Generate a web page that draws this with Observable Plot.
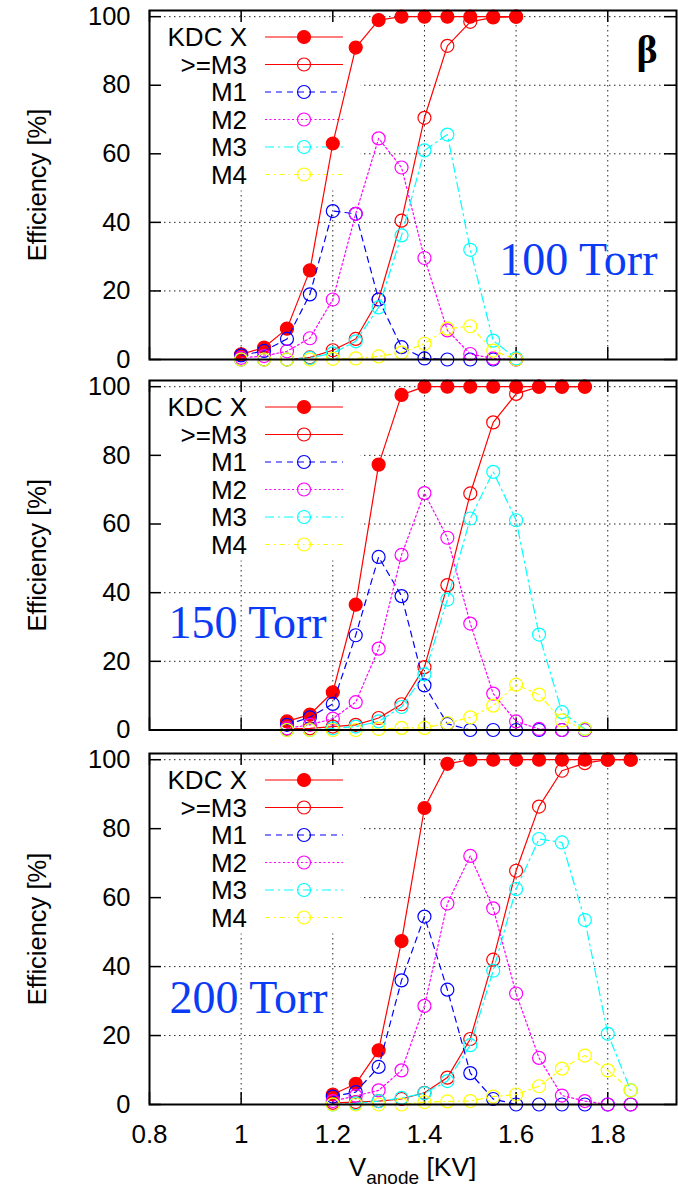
<!DOCTYPE html>
<html><head><meta charset="utf-8">
<script src="https://cdn.jsdelivr.net/npm/d3@7"></script>
<script src="https://cdn.jsdelivr.net/npm/@observablehq/plot@0.6"></script>
<style>
body{margin:0;background:#fff;}
#chart{position:relative;width:678px;height:1189px;background:#fff;}
#chart svg{position:absolute;left:0;overflow:visible;}
</style></head><body><div id="chart"></div>
<script>
// ---- tick labels ----
const xTicks = [0.8, 1.0, 1.2, 1.4, 1.6, 1.8];
const yTicks = [0, 20, 40, 60, 80, 100];

// ---- series ----
const seriesNames = ["KDC X", ">=M3", "M1", "M2", "M3", "M4"];
const seriesColors = ["#ff0000", "#ff0000", "#0000ff", "#ff00ff", "#00ffff", "#ffff00"];
const seriesDash = [null, null, "6,5", "2,2.5", "9,4,2,4", "5,4,1.5,4"];
const seriesFilled = [true, false, false, false, false, false];

// ---- 100 Torr ----
const x100 = [1.00, 1.05, 1.10, 1.15, 1.20, 1.25, 1.30, 1.35, 1.40, 1.45, 1.50, 1.55, 1.60];
const kdc100 = [1.5, 3.5, 9, 26, 63, 91, 99, 100, 100, 100, 100, 100, 100];
const geM3_100 = [0, 0, 0, 0.6, 2.7, 6, 17.5, 40.5, 70.5, 91.5, 98.5, 99.8, 100];
const m1_100 = [1.2, 2.5, 6, 19, 43.3, 42.5, 17.5, 3.6, 0.3, 0, 0, 0, 0];
const m2_100 = [0.5, 1, 2.4, 6.2, 17.5, 42.5, 64.5, 56, 29.6, 8.5, 1.6, 0.3, 0];
const m3_100 = [0, 0, 0, 0.5, 1.8, 5.3, 15.2, 36.2, 61, 65.6, 32, 5.5, 0.3];
const m4_100 = [0, 0, 0, 0, 0.2, 0.3, 0.9, 2, 4.6, 9, 9.7, 2.6, 0];

// ---- 150 Torr ----
const x150 = [1.10, 1.15, 1.20, 1.25, 1.30, 1.35, 1.40, 1.45, 1.50, 1.55, 1.60, 1.65, 1.70, 1.75];
const kdc150 = [2.5, 4.5, 11, 36.5, 77.3, 97.6, 100, 100, 100, 100, 100, 100, 100, 100];
const geM3_150 = [0.3, 0.5, 1, 1.5, 3.5, 7.5, 18.3, 42.2, 68.9, 89.6, 97.9, 100, 100, 100];
const m1_150 = [1.5, 3.7, 7.6, 27.6, 50.4, 39, 13, 1.8, 0, 0, 0, 0, 0, 0];
const m2_150 = [0.5, 1.5, 3.3, 8.1, 23.7, 51, 69, 56, 31, 10.6, 2.5, 0.3, 0, 0];
const m3_150 = [0, 0, 0.5, 1, 2.5, 6.7, 16.2, 38, 61.6, 75.2, 61.1, 27.8, 5.2, 0.3];
const m4_150 = [0, 0, 0, 0, 0.3, 0.6, 0.6, 2, 3.7, 7.1, 13.2, 10.3, 2.8, 0.3];

// ---- 200 Torr ----
const x200 = [1.20, 1.25, 1.30, 1.35, 1.40, 1.45, 1.50, 1.55, 1.60, 1.65, 1.70, 1.75, 1.80, 1.85];
const kdc200 = [2.9, 6, 15.7, 47.4, 86, 98.8, 100, 100, 100, 100, 100, 100, 100, 100];
const geM3_200 = [0.5, 0.7, 1, 1.6, 3.4, 7.8, 19, 42, 67.8, 86.4, 96.8, 99, 100, 100];
const m1_200 = [2.3, 3.6, 10.9, 36, 54.5, 33.3, 9.1, 1.6, 0, 0, 0, 0, 0, 0];
const m2_200 = [1, 2.5, 4.1, 9.9, 28.6, 58.3, 72.1, 56.9, 32.2, 13.5, 2.6, 1, 0, 0];
const m3_200 = [0, 0.3, 1, 1.9, 3.3, 6.8, 17.2, 38.8, 62.5, 77, 76, 53.5, 20.5, 4.1];
const m4_200 = [0, 0, 0, 0, 0.7, 0.9, 1, 2.3, 2.9, 5.3, 10.4, 14.2, 9.9, 4.1];

const pressureLabels = ["100 Torr", "150 Torr", "200 Torr"];
const xLabelMain = "V", xLabelSub = "anode", xLabelUnit = " [KV]";
const yLabel = "Efficiency [%]";
const betaLabel = "β";

const W = 678, ML = 149, MR = 2;
const PW = W - ML - MR;
const sans = '"Liberation Sans", Arial, Helvetica, sans-serif';
const serif = '"Liberation Serif", "Times New Roman", serif';
const torrColor = "#0a3cf5";

function panel(cfg) {
  const {xs, series, top, height, mt, mb, showX, torr, torrOpts, beta} = cfg;
  const PH = height - mt - mb;
  const marks = [];
  const gridStyle = {stroke: "#000", strokeOpacity: 0.85, strokeWidth: 1, strokeDasharray: "1.5,3.5"};
  marks.push(Plot.gridX(xTicks.slice(1), {x: d => d, ...gridStyle}));
  marks.push(Plot.gridY(yTicks.slice(1), {y: d => d, ...gridStyle}));
  // legend background box
  marks.push(Plot.frame({fill: "white", stroke: null, insetTop: 10, insetLeft: 0, insetRight: (W - MR) - 360, insetBottom: PH - 180}));
  // inward ticks on all sides
  marks.push(Plot.tickY(yTicks, {y: d => d, insetRight: PW - 12, strokeWidth: 1.5}));
  marks.push(Plot.tickY(yTicks, {y: d => d, insetLeft: PW - 12, strokeWidth: 1.5}));
  marks.push(Plot.tickX(xTicks, {x: d => d, insetBottom: PH - 12, strokeWidth: 1.5}));
  marks.push(Plot.tickX(xTicks, {x: d => d, insetTop: PH - 12, strokeWidth: 1.5}));
  marks.push(Plot.axisY({ticks: yTicks, tickSize: 0, tickPadding: 19, label: null, fontSize: 25.5, tickFormat: d => String(d)}));
  if (showX) marks.push(Plot.axisX({ticks: xTicks, tickSize: 0, tickPadding: 20, label: null, fontSize: 26, tickFormat: d => String(d)}));
  // y label
  marks.push(Plot.text([yLabel], {text: d => d, frameAnchor: "left", rotate: -90, dx: -112, fontSize: 25.5, textAnchor: "middle", lineAnchor: "middle"}));
  // legend
  marks.push(() => {
    const g = d3.create("svg:g");
    seriesNames.forEach((name, i) => {
      const y = mt + 27 + 27.5 * i;
      g.append("text").attr("x", ML + 98).attr("y", y).attr("dy", "0.36em")
        .attr("text-anchor", "end").attr("font-size", 26).attr("fill", "black").text(name);
      const ln = g.append("line").attr("x1", ML + 116).attr("x2", ML + 194).attr("y1", y).attr("y2", y)
        .attr("stroke", seriesColors[i]).attr("stroke-width", 1.2);
      if (seriesDash[i]) ln.attr("stroke-dasharray", seriesDash[i]);
      g.append("circle").attr("cx", ML + 155).attr("cy", y).attr("r", 6.5)
        .attr("stroke", seriesColors[i]).attr("stroke-width", 1.2)
        .attr("fill", seriesFilled[i] ? seriesColors[i] : "none");
    });
    return g.node();
  });
  // data
  series.forEach((ys, i) => {
    const data = xs.map((x, j) => ({x, y: ys[j]}));
    const lineOpts = {x: "x", y: "y", stroke: seriesColors[i], strokeWidth: 1.2};
    if (seriesDash[i]) lineOpts.strokeDasharray = seriesDash[i];
    marks.push(Plot.line(data, lineOpts));
    marks.push(Plot.dot(data, {x: "x", y: "y", r: 6.5, stroke: seriesColors[i], strokeWidth: 1.2, fill: seriesFilled[i] ? seriesColors[i] : "none"}));
  });
  // pressure label
  marks.push(Plot.text([torr], {text: d => d, fontFamily: serif, fontSize: 46, fill: torrColor, lineAnchor: "middle", ...torrOpts}));
  if (beta) marks.push(Plot.text([betaLabel], {text: d => d, frameAnchor: "top-right", textAnchor: "end", dx: -19, dy: 40, fontFamily: serif, fontWeight: "bold", fontSize: 40, lineAnchor: "middle"}));
  marks.push(Plot.frame({stroke: "black", strokeWidth: 2}));
  if (showX) {
    marks.push(() => {
      const t = d3.create("svg:text").attr("x", ML + PW / 2).attr("y", height - mb + 72)
        .attr("text-anchor", "middle").attr("font-size", 26.5).attr("fill", "black");
      t.append("tspan").text(xLabelMain);
      t.append("tspan").attr("font-size", 19).attr("dy", 8).text(xLabelSub);
      t.append("tspan").attr("dy", -8).text(xLabelUnit);
      return t.node();
    });
  }
  const svg = Plot.plot({
    width: W, height, marginLeft: ML, marginRight: MR, marginTop: mt, marginBottom: mb,
    x: {domain: [0.8, 1.95], axis: null},
    y: {domain: [0, 101.8], axis: null},
    style: {fontFamily: sans, fontSize: "25px", background: "transparent", overflow: "visible", color: "black"},
    marks
  });
  svg.style.top = top + "px";
  document.getElementById("chart").appendChild(svg);
}

panel({xs: x100, series: [kdc100, geM3_100, m1_100, m2_100, m3_100, m4_100], top: 0, height: 370, mt: 10, mb: 11,
  showX: false, torr: pressureLabels[0], torrOpts: {frameAnchor: "top-right", textAnchor: "end", dx: -19, dy: 250}, beta: true});
panel({xs: x150, series: [kdc150, geM3_150, m1_150, m2_150, m3_150, m4_150], top: 370, height: 370, mt: 10, mb: 10.5,
  showX: false, torr: pressureLabels[1], torrOpts: {frameAnchor: "top-left", textAnchor: "start", dx: 19, dy: 243}, beta: false});
panel({xs: x200, series: [kdc200, geM3_200, m1_200, m2_200, m3_200, m4_200], top: 740, height: 449, mt: 13, mb: 85,
  showX: true, torr: pressureLabels[2], torrOpts: {frameAnchor: "top-left", textAnchor: "start", dx: 20, dy: 245}, beta: false});
</script></body></html>
